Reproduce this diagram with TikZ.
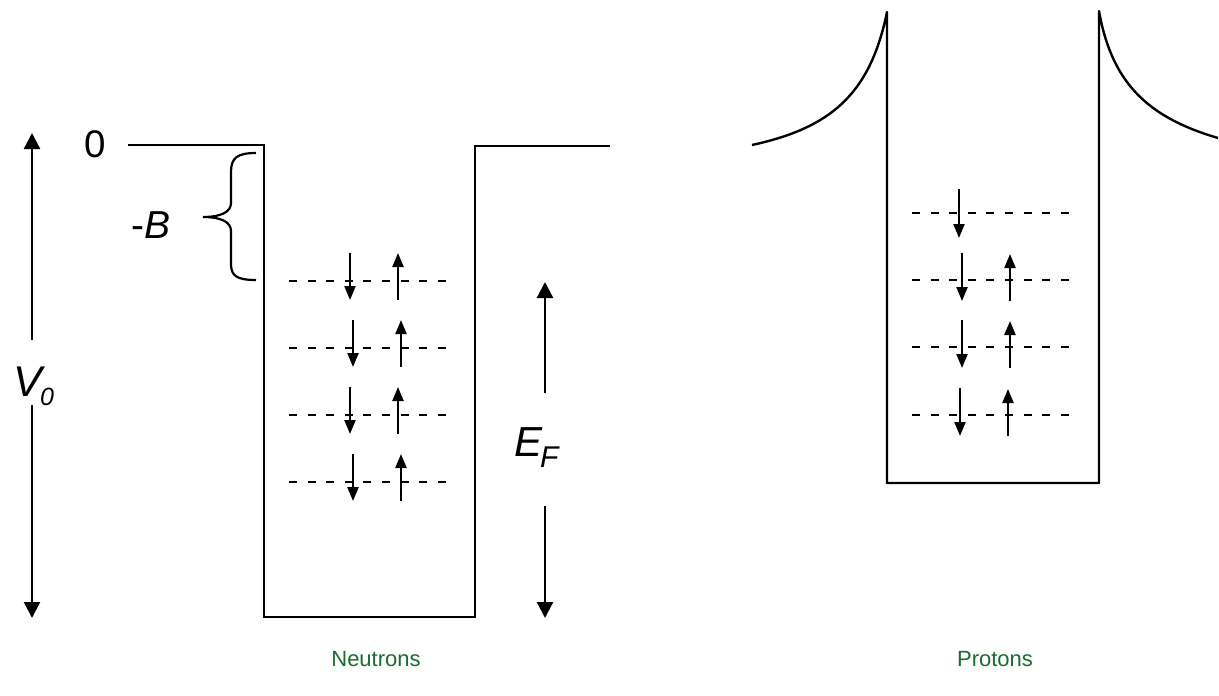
\documentclass[tikz,border=0pt]{standalone}
\usepackage{fontspec}
\setmainfont{Liberation Sans}
\usetikzlibrary{arrows.meta}
\definecolor{labgreen}{RGB}{24,108,48}
\tikzset{
  wall/.style={line width=2.4pt, line join=round},
  level/.style={line width=2.2pt, dash pattern=on 8pt off 10.6pt},
  spin/.style={line width=2.3pt, -{Triangle[length=14pt,width=11pt]}},
  bigarrow/.style={line width=2.2pt, -{Triangle[length=16pt,width=16pt]}},
  lab/.style={inner sep=0pt, anchor=base west},
  caption/.style={inner sep=0pt, text=labgreen, font=\fontsize{22}{22}\selectfont}
}
\begin{document}
\begin{tikzpicture}[x=1pt,y=-1pt]
\useasboundingbox (0,0) rectangle (1219,696);
% neutron well
\draw[wall, line join=miter] (128,145) -- (264,145) -- (264,617) -- (475,617) -- (475,146) -- (610,146);
% brace
\draw[line width=2.2pt] (256,153) .. controls (237,153) and (231,158) .. (231,172) -- (231,203)
  .. controls (231,212) and (221,217) .. (203,217)
  .. controls (221,217) and (231,222) .. (231,231) -- (231,264)
  .. controls (231,276) and (237,280) .. (256,280);
% labels
\node[inner sep=0pt] (zero) at (95.5,144.5) {\fontsize{38.5}{38.5}\selectfont 0};
\node[lab] (mB) at (131,238.3) {\fontsize{39}{39}\selectfont -\textit{B}};
\node[lab] (V) at (13,396) {\fontsize{43}{43}\selectfont\itshape V};
\node[lab] (Vsub) at (40,405) {\fontsize{25}{25}\selectfont\itshape 0};
\node[lab] (E) at (514,456.7) {\fontsize{42}{42}\selectfont\itshape E};
\node[lab] (Esub) at (540,467) {\fontsize{30}{30}\selectfont\itshape F};
% V0 arrows
\coordinate (v1) at (32,340); \coordinate (v1t) at (32,133);
\coordinate (v2) at (32,405); \coordinate (v2t) at (32,618);
\draw[bigarrow] (v1) -- (v1t);
\draw[bigarrow] (v2) -- (v2t);
% EF arrows
\coordinate (e1) at (545,393); \coordinate (e1t) at (545,282);
\coordinate (e2) at (545,506); \coordinate (e2t) at (545,618);
\draw[bigarrow] (e1) -- (e1t);
\draw[bigarrow] (e2) -- (e2t);
% neutron levels
\foreach \y in {281,348,415,482} \draw[level] (289,\y) -- (447,\y);
\foreach \xd/\yd/\xu/\yu in {350/281/398/281, 353/348/401/348, 350/415/398/415, 353/482/401/482}{
  \draw[spin] (\xd,\yd-28) -- (\xd,\yd+19);
  \draw[spin] (\xu,\yu+19) -- (\xu,\yu-28);
}
% proton well
\draw[wall] (752,145) .. controls (830,128) and (870,95) .. (887,12) -- (887,483) -- (1099,483) -- (1099,11)
  .. controls (1112,85) and (1150,118) .. (1218,138);
\draw[wall, line join=miter] (887,200) -- (887,483) -- (1099,483) -- (1099,200);
% proton levels
\foreach \y in {213,280,347,415} \draw[level] (912,\y) -- (1072,\y);
\draw[spin] (959,189) -- (959,238);
\foreach \xd/\xu/\y in {962/1010/280, 962/1010/347, 960/1008/415}{
  \draw[spin] (\xd,\y-27) -- (\xd,\y+21);
  \draw[spin] (\xu,\y+21) -- (\xu,\y-26);
}
% captions
\node[caption] (neu) at (376,659) {Neutrons};
\node[caption] (pro) at (995,659) {Protons};
\end{tikzpicture}
\end{document}
